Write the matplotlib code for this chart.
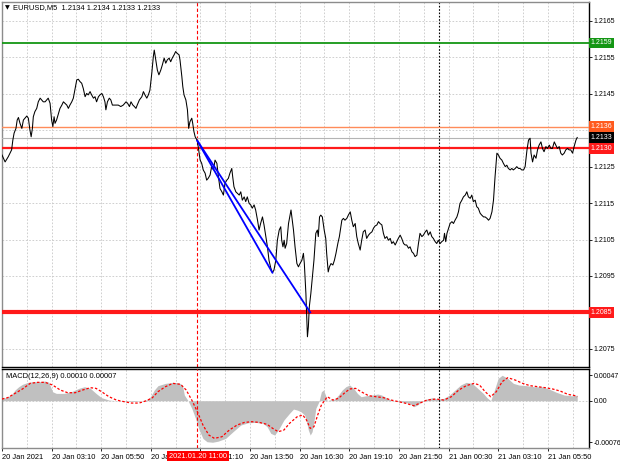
import matplotlib
matplotlib.use("Agg")
import matplotlib.pyplot as plt
from matplotlib.transforms import blended_transform_factory

plt.rcParams['font.family'] = ['Liberation Sans', 'DejaVu Sans']

# EURUSD M5 close, (minutes from 20 Jan 00:30, price)
price_pts = [
    (0, 1.21282), (10, 1.21263), (20, 1.21277), (31, 1.21296), (35, 1.21323), (39, 1.21342),
    (45, 1.21355), (49, 1.21378), (53, 1.21385), (58, 1.21369), (64, 1.21355), (69, 1.21378),
    (74, 1.21383), (80, 1.21389), (85, 1.21383), (90, 1.21351), (94, 1.21332), (98, 1.21355),
    (101, 1.21387), (106, 1.21401), (112, 1.21410), (117, 1.21428), (123, 1.21438), (128, 1.21433),
    (133, 1.21428), (139, 1.21428), (144, 1.21433), (149, 1.21438), (155, 1.21424), (160, 1.21378),
    (164, 1.21360), (168, 1.21387), (171, 1.21369), (176, 1.21378), (182, 1.21396), (187, 1.21410),
    (193, 1.21419), (198, 1.21428), (203, 1.21424), (209, 1.21419), (214, 1.21410), (219, 1.21419),
    (225, 1.21428), (230, 1.21438), (235, 1.21460), (241, 1.21488), (246, 1.21490), (252, 1.21483),
    (257, 1.21479), (262, 1.21465), (268, 1.21442), (273, 1.21451), (278, 1.21447), (284, 1.21456),
    (289, 1.21447), (295, 1.21438), (300, 1.21442), (305, 1.21428), (311, 1.21442), (316, 1.21447),
    (322, 1.21451), (327, 1.21442), (332, 1.21428), (335, 1.21406), (340, 1.21428), (346, 1.21438),
    (351, 1.21433), (356, 1.21419), (365, 1.21419), (375, 1.21419), (383, 1.21415), (391, 1.21419),
    (400, 1.21428), (405, 1.21424), (411, 1.21415), (416, 1.21428), (422, 1.21419), (427, 1.21415),
    (432, 1.21410), (436, 1.21419), (443, 1.21433), (451, 1.21442), (456, 1.21456), (461, 1.21447),
    (467, 1.21438), (472, 1.21447), (477, 1.21460), (483, 1.21506), (488, 1.21552), (491, 1.21570),
    (496, 1.21543), (501, 1.21515), (506, 1.21502), (512, 1.21515), (517, 1.21529), (523, 1.21548),
    (528, 1.21534), (533, 1.21543), (539, 1.21548), (544, 1.21538), (549, 1.21548), (555, 1.21557),
    (560, 1.21566), (565, 1.21561), (571, 1.21557), (574, 1.21543), (580, 1.21497), (583, 1.21470),
    (587, 1.21447), (593, 1.21433), (598, 1.21406), (602, 1.21355), (606, 1.21373), (612, 1.21383),
    (615, 1.21369), (619, 1.21346), (623, 1.21332), (630, 1.21321),
    (639, 1.21268), (644, 1.21259), (649, 1.21241), (655, 1.21232), (660, 1.21213), (665, 1.21218),
    (671, 1.21227), (676, 1.21250), (682, 1.21241), (687, 1.21268), (693, 1.21259), (698, 1.21222),
    (703, 1.21190), (709, 1.21181), (714, 1.21172), (719, 1.21204), (725, 1.21213), (730, 1.21218),
    (735, 1.21232), (741, 1.21245), (744, 1.21222), (748, 1.21195), (754, 1.21181), (759, 1.21177),
    (765, 1.21172), (770, 1.21181), (775, 1.21158), (781, 1.21167), (786, 1.21154), (791, 1.21167),
    (797, 1.21149), (802, 1.21145), (807, 1.21136), (813, 1.21145), (818, 1.21131), (824, 1.21103),
    (829, 1.21076), (834, 1.21094), (840, 1.21112), (845, 1.21090), (851, 1.21058), (856, 1.21030),
    (861, 1.20993), (867, 1.20971), (872, 1.20959), (877, 1.20966), (883, 1.20993), (888, 1.21048),
    (894, 1.21076), (899, 1.21085), (902, 1.21048), (906, 1.21030), (910, 1.21048), (913, 1.21026),
    (918, 1.21039), (924, 1.21094), (929, 1.21117), (932, 1.21131), (936, 1.21103), (940, 1.21076),
    (945, 1.21030), (951, 1.20984), (956, 1.20975), (961, 1.20984), (967, 1.20993), (972, 1.21012),
    (975, 1.20984), (980, 1.20902), (983, 1.20829), (985, 1.20783), (988, 1.20810), (991, 1.20865),
    (996, 1.20902), (1001, 1.20948), (1006, 1.20993), (1012, 1.21067), (1017, 1.21076), (1020, 1.21058),
    (1024, 1.21112), (1028, 1.21117), (1033, 1.21112), (1039, 1.21076), (1044, 1.21053), (1047, 1.21012),
    (1052, 1.20961), (1056, 1.20975), (1061, 1.20984), (1067, 1.20980), (1072, 1.20993), (1077, 1.21012),
    (1083, 1.21039), (1088, 1.21058), (1096, 1.21103), (1101, 1.21108), (1106, 1.21103), (1112, 1.21108),
    (1117, 1.21117), (1123, 1.21126), (1128, 1.21103), (1133, 1.21085), (1139, 1.21094), (1144, 1.21058),
    (1149, 1.21039), (1155, 1.21021), (1160, 1.21048), (1165, 1.21071), (1171, 1.21076), (1176, 1.21053),
    (1182, 1.21062), (1187, 1.21067), (1193, 1.21071), (1198, 1.21081), (1203, 1.21087), (1209, 1.21090),
    (1214, 1.21099), (1219, 1.21094), (1225, 1.21090), (1230, 1.21067), (1235, 1.21053), (1241, 1.21058),
    (1246, 1.21048), (1252, 1.21053), (1257, 1.21039), (1262, 1.21044), (1268, 1.21035), (1273, 1.21044),
    (1278, 1.21053), (1284, 1.21062), (1289, 1.21053), (1295, 1.21039), (1300, 1.21035), (1305, 1.21035),
    (1311, 1.21026), (1316, 1.21030), (1322, 1.21016), (1327, 1.21012), (1332, 1.21003), (1338, 1.21007),
    (1343, 1.21039), (1348, 1.21067), (1354, 1.21058), (1359, 1.21062), (1365, 1.21071), (1370, 1.21076),
    (1375, 1.21062), (1381, 1.21071), (1386, 1.21058), (1391, 1.21053), (1397, 1.21044), (1402, 1.21039),
    (1407, 1.21048), (1413, 1.21039), (1418, 1.21044), (1424, 1.21048), (1427, 1.21067), (1431, 1.21044),
    (1435, 1.21067), (1440, 1.21081), (1445, 1.21094), (1451, 1.21099), (1456, 1.21094), (1461, 1.21103),
    (1467, 1.21112), (1472, 1.21126), (1477, 1.21149), (1483, 1.21158), (1488, 1.21167), (1494, 1.21172),
    (1499, 1.21181), (1504, 1.21167), (1510, 1.21163), (1515, 1.21172), (1520, 1.21154), (1526, 1.21158),
    (1531, 1.21140), (1536, 1.21136), (1542, 1.21122), (1547, 1.21117), (1553, 1.21112), (1558, 1.21112),
    (1564, 1.21108), (1569, 1.21103), (1574, 1.21108), (1580, 1.21126), (1585, 1.21158), (1590, 1.21222),
    (1596, 1.21287), (1601, 1.21282), (1606, 1.21273), (1612, 1.21268), (1617, 1.21259), (1623, 1.21250),
    (1628, 1.21254), (1633, 1.21245), (1639, 1.21241), (1644, 1.21245), (1649, 1.21241), (1655, 1.21245),
    (1660, 1.21250), (1666, 1.21245), (1671, 1.21245), (1676, 1.21241), (1682, 1.21241), (1687, 1.21250),
    (1693, 1.21296), (1698, 1.21323), (1703, 1.21328), (1706, 1.21287), (1711, 1.21263), (1716, 1.21282),
    (1722, 1.21273), (1727, 1.21296), (1732, 1.21309), (1738, 1.21318), (1743, 1.21300), (1748, 1.21291),
    (1754, 1.21305), (1759, 1.21300), (1765, 1.21309), (1770, 1.21300), (1775, 1.21300), (1781, 1.21318),
    (1786, 1.21309), (1791, 1.21300), (1797, 1.21305), (1802, 1.21287), (1807, 1.21282), (1813, 1.21287),
    (1818, 1.21296), (1824, 1.21300), (1829, 1.21296), (1834, 1.21296), (1840, 1.21287), (1845, 1.21305),
    (1851, 1.21323), (1855, 1.21330),
]

# MACD(12,26,9) main (histogram) and signal, in 1e-5 units
hist_pts = [
    (0, 4.3), (12, 5.5), (30, 10.4), (42, 19.5), (54, 25.6), (66, 29.9), (84, 33.6), (103, 34.8),
    (121, 34.8), (139, 36.0), (151, 33.6), (163, 16.5), (175, 13.4), (200, 13.4), (224, 16.5),
    (248, 22.6), (266, 25.6), (285, 22.6), (303, 13.4), (321, 5.5), (345, 1.2), (369, 0.0),
    (400, -1.0), (430, -1.5), (466, 1.2), (479, 7.3), (491, 19.5), (503, 27.5), (527, 31.7),
    (551, 33.6), (570, 32.9), (582, 28.7), (588, 10.4), (600, 0.0), (612, -14.0), (624, -32.3),
    (636, -53.7), (648, -69.0), (661, -75.0), (679, -76.0), (697, -74.0), (721, -69.0), (745, -56.7),
    (770, -44.5), (794, -40.3), (818, -39.7), (842, -41.5), (855, -47.6), (867, -59.8), (879, -62.8),
    (891, -53.7), (909, -35.4), (927, -23.2), (940, -15.3), (952, -17.1), (964, -20.1), (976, -26.2),
    (982, -38.4), (988, -53.7), (994, -62.8), (1000, -56.7), (1006, -38.4), (1012, -14.0), (1022, -1.8),
    (1030, 16.5), (1037, 19.5), (1043, 10.4), (1049, 0.0), (1055, 1.2), (1073, 3.1), (1085, 10.4),
    (1097, 19.5), (1109, 25.6), (1121, 28.7), (1134, 22.6), (1146, 13.4), (1158, 7.3), (1176, 9.2),
    (1194, 10.4), (1212, 12.2), (1224, 10.4), (1243, 4.3), (1261, 0.0), (1279, -1.8), (1297, -3.1),
    (1315, -4.9), (1328, -11.0), (1340, -7.9), (1352, -1.8), (1370, 3.1), (1388, 5.5), (1406, 3.1),
    (1425, 4.3), (1443, 10.4), (1461, 19.5), (1479, 28.7), (1497, 33.6), (1516, 31.7), (1534, 22.6),
    (1552, 13.4), (1564, 5.5), (1576, 0.0), (1588, 19.5), (1600, 40.9), (1613, 46.5), (1631, 40.9),
    (1649, 31.7), (1667, 28.7), (1691, 27.5), (1716, 25.6), (1740, 25.6), (1764, 21.4), (1788, 15.3),
    (1813, 10.4), (1837, 9.0), (1855, 10.0),
]
signal_pts = [
    (0, 3.1), (18, 5.5), (42, 13.4), (66, 21.4), (91, 31.7), (115, 33.6), (139, 33.6), (163, 28.7),
    (188, 19.5), (212, 14.6), (236, 14.6), (260, 19.5), (285, 23.8), (303, 22.6), (321, 16.5),
    (345, 7.3), (369, 1.2), (394, -1.8), (418, -4.3), (442, -4.3), (466, 0.0), (485, 5.5), (503, 16.5),
    (527, 25.6), (551, 31.7), (576, 29.9), (594, 19.5), (612, 1.2), (630, -20.1), (648, -44.5),
    (667, -62.8), (685, -68.9), (709, -65.9), (733, -53.7), (758, -44.5), (782, -39.7), (806, -38.4),
    (830, -39.7), (855, -43.3), (873, -50.6), (891, -56.7), (909, -53.7), (927, -41.5), (952, -29.3),
    (970, -26.2), (982, -35.4), (994, -50.6), (1006, -47.6), (1018, -26.2), (1030, -7.9), (1049, 7.3),
    (1067, 1.2), (1085, 4.3), (1103, 13.4), (1121, 21.4), (1140, 22.6), (1158, 16.5), (1182, 9.2),
    (1206, 7.3), (1231, 5.5), (1255, 1.2), (1279, -1.8), (1303, -4.9), (1328, -9.2), (1346, -4.9),
    (1370, 1.2), (1400, 3.1), (1425, 1.2), (1449, 7.3), (1473, 19.5), (1497, 27.5), (1522, 31.7),
    (1540, 28.7), (1558, 16.5), (1576, 7.3), (1594, 16.5), (1613, 34.8), (1631, 42.1), (1655, 37.8),
    (1679, 31.7), (1703, 27.5), (1728, 25.6), (1752, 23.8), (1776, 21.4), (1800, 17.7), (1825, 11.6),
    (1849, 9.2), (1855, 7.0),
]

# horizontal levels and their right-side boxes
levels = [1.2159, 1.2136, 1.2133, 1.2130, 1.2085]
level_labels = ['1.2159', '1.2136', '1.2133', '1.2130', '1.2085']
line_colors = ['#149614', '#ff8c5a', '#b4b4b4', '#ff1a1a', '#ff1a1a']
line_widths = [1.3, 1.0, 0.8, 1.6, 3.0]
box_colors = ['#149614', '#ff5a1e', '#000000', '#ff1a1a', '#ff1a1a']

# trend lines drawn on the chart
trend_start = (630, 1.21321)
trend_ends = [(872, 1.20959), (994, 1.2085)]

event_time = 630      # 2021.01.20 11:00
day_sep = 1410        # 21 Jan 00:00

time_ticks = [0, 160, 320, 480, 640, 800, 960, 1120, 1280, 1440, 1600, 1760]
time_labels = ['20 Jan 2021', '20 Jan 03:10', '20 Jan 05:50', '20 Jan 08:30', '20 Jan 11:10',
               '20 Jan 13:50', '20 Jan 16:30', '20 Jan 19:10', '20 Jan 21:50', '21 Jan 00:30',
               '21 Jan 03:10', '21 Jan 05:50']
grid_minor = [80, 240, 400, 560, 720, 880, 1040, 1200, 1360, 1520, 1680, 1840]
price_ticks = [1.2075, 1.2085, 1.2095, 1.2105, 1.2115, 1.2125, 1.2135, 1.2145, 1.2155, 1.2165]
price_tick_labels = ['1.2075', '', '1.2095', '1.2105', '1.2115', '1.2125', '', '1.2145', '1.2155', '1.2165']
macd_ticks = [-0.00076, 0.0, 0.00047]
macd_tick_labels = ['-0.00076', '0.00', '0.00047']

W, H = 620, 465
fs = 5.4    # time axis / title text
fs_r = 5.0  # right price scale
grid_kw = dict(color='#c8c8c8', linestyle=(0, (2, 2)), linewidth=0.6)

fig = plt.figure(figsize=(W / 100, H / 100), dpi=100)
ax = fig.add_axes([2 / W, 1 - 367 / H, 587 / W, 365 / H])
ax2 = fig.add_axes([2 / W, 1 - 448 / H, 587 / W, 79 / H], sharex=ax)

# --- main price panel
t = [p[0] for p in price_pts]
c = [p[1] for p in price_pts]
ax.plot(t, c, color='#000000', linewidth=0.75, zorder=4)

for lv, col, lw in zip(levels, line_colors, line_widths):
    ax.axhline(lv, color=col, linewidth=lw, zorder=3)

for end in trend_ends:
    ax.plot([trend_start[0], end[0]], [trend_start[1], end[1]], color='#0000ff', linewidth=1.3, zorder=5)

ax.axvline(event_time, color='#ff0000', linewidth=0.8, linestyle=(0, (3, 2)), zorder=2)
ax.axvline(day_sep, color='#000000', linewidth=0.8, linestyle=(0, (1.5, 1.5)), zorder=2)

ax.set_xlim(0, 1893)
ax.set_ylim(1.20700, 1.21702)
ax.set_yticks(price_ticks)
ax.set_yticklabels(price_tick_labels)
ax.yaxis.tick_right()
ax.tick_params(axis='y', length=2.5, width=0.6, pad=1, labelsize=fs_r, colors='#000000')
ax.tick_params(axis='x', which='both', length=0, labelbottom=False)
ax.set_xticks(time_ticks)
ax.set_xticks(grid_minor, minor=True)
ax.grid(True, which='both', **grid_kw)
ax.set_axisbelow(True)

yt = blended_transform_factory(ax.transAxes, ax.transData)
for lv, lab, bc in zip(levels, level_labels, box_colors):
    ax.text(1.003, lv, lab, transform=yt, ha='left', va='center', fontsize=fs_r, color='white',
            bbox=dict(boxstyle='square,pad=0.25', fc=bc, ec='none'), clip_on=False, zorder=6)

fig.text(5 / W, 1 - 8 / H, '\u25bc', fontsize=4.5, va='center', ha='left', color='#000000',
         family='DejaVu Sans')
fig.text(13 / W, 1 - 8 / H, 'EURUSD,M5  1.2134 1.2134 1.2133 1.2133', fontsize=fs,
         va='center', ha='left', color='#000000')

# --- MACD panel
th = [p[0] for p in hist_pts]
hv = [p[1] * 1e-5 for p in hist_pts]
ts = [p[0] for p in signal_pts]
sv = [p[1] * 1e-5 for p in signal_pts]
ax2.fill_between(th, hv, 0, color='#c0c0c0', linewidth=0, zorder=2)
ax2.plot(ts, sv, color='#ff0000', linewidth=0.9, linestyle=(0, (2, 1.5)), zorder=3)
ax2.axhline(0, **grid_kw)
ax2.axvline(event_time, color='#ff0000', linewidth=0.8, linestyle=(0, (3, 2)), zorder=4)
ax2.axvline(day_sep, color='#000000', linewidth=0.8, linestyle=(0, (1.5, 1.5)), zorder=4)

ax2.set_ylim(-0.000865, 0.00058)
ax2.set_yticks(macd_ticks)
ax2.set_yticklabels(macd_tick_labels)
ax2.yaxis.tick_right()
ax2.tick_params(axis='y', length=2.5, width=0.6, pad=1, labelsize=fs_r)
ax2.set_xticks(time_ticks)
ax2.set_xticklabels(time_labels)
ax2.set_xticks(grid_minor, minor=True)
ax2.tick_params(axis='x', which='major', length=2, width=0.6, pad=2, labelsize=fs)
ax2.tick_params(axis='x', which='minor', length=0)
for lab in ax2.get_xticklabels():
    lab.set_ha('left')
ax2.grid(True, axis='x', which='both', **grid_kw)
ax2.set_axisbelow(True)
ax2.text(0.006, 0.9, 'MACD(12,26,9) 0.00010 0.00007', transform=ax2.transAxes, fontsize=fs,
         va='center', ha='left', color='#000000', zorder=6)

fig.text(198 / W, 1 - 456 / H, '2021.01.20 11:00', fontsize=fs, color='white', ha='center', va='center',
         bbox=dict(boxstyle='square,pad=0.25', fc='#ff0000', ec='none'), zorder=10)

for a in (ax, ax2):
    for side in ('left', 'top', 'bottom'):
        a.spines[side].set_color('#8c8c8c')
        a.spines[side].set_linewidth(1.0)
    a.spines['right'].set_color('#000000')
    a.spines['right'].set_linewidth(1.0)
ax.spines['bottom'].set_color('#000000')
ax2.spines['top'].set_color('#000000')

fig.savefig('out.png', dpi=100, facecolor='white')
